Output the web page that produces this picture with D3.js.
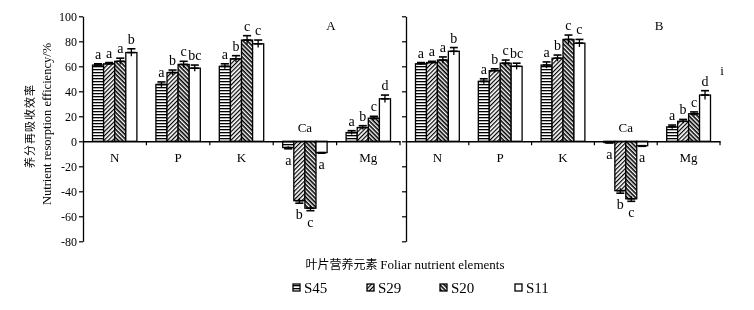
<!DOCTYPE html>
<html>
<head>
<meta charset="utf-8">
<script src="https://cdn.jsdelivr.net/npm/d3@7"></script>
<style>
  body { margin: 0; background: #fff; }
  svg { will-change: transform; }
  text { font-family: 'Liberation Serif', 'Times New Roman', serif; fill: #000; }
  .cjk { font-family: 'Noto Sans CJK SC', sans-serif; }
</style>
</head>
<body>
<div id="root"></div>
<script>
var elements = ['N', 'P', 'K', 'Ca', 'Mg'];
var sites = ['S45', 'S29', 'S20', 'S11'];
var yTicks = [-80, -60, -40, -20, 0, 20, 40, 60, 80, 100];

// panel A
var a_S45 = [61, 45.5, 60, -5, 7];
var a_S29 = [62, 55, 66, -47.5, 11];
var a_S20 = [64, 61.5, 81, -53.5, 18.5];
var a_S11 = [71, 58.5, 78, -9, 34];
var a_err_S45 = [1, 2, 2, 1, 1.5];
var a_err_S29 = [1, 2, 2.5, 2, 1.5];
var a_err_S20 = [2.5, 2.5, 3.5, 2, 1.5];
var a_err_S11 = [3, 2.5, 3, 0.5, 3];

// panel B
var b_S45 = [62, 48, 61, -1, 11.5];
var b_S29 = [63, 56.5, 66.5, -39.5, 16];
var b_S20 = [65, 62.5, 81.5, -46, 22];
var b_S11 = [72, 60, 78.5, -3.5, 37];
var b_err_S45 = [1, 2, 2.5, 0.3, 1.5];
var b_err_S29 = [1, 1.5, 2.5, 2, 1.5];
var b_err_S20 = [2.5, 2.5, 3.5, 2, 1.5];
var b_err_S11 = [3, 2.5, 3, 0.5, 3.5];

// significance letters (same in both panels)
var let_S45 = ['a', 'a', 'a', 'a', 'a'];
var let_S29 = ['a', 'b', 'b', 'b', 'b'];
var let_S20 = ['a', 'c', 'c', 'c', 'c'];
var let_S11 = ['b', 'bc', 'c', 'a', 'd'];

var buildRows = (vals, errs) => {
  var rows = [];
  elements.forEach((el, i) => {
    sites.forEach((s, j) => {
      rows.push({ element: el, site: s, value: vals[j][i], err: errs[j][i], letter: [let_S45, let_S29, let_S20, let_S11][j][i] });
    });
  });
  return rows;
};

var panels = [
  { name: 'A', x0: 83, x1: 400, labels: true, nameX: 331,
    rows: buildRows([a_S45, a_S29, a_S20, a_S11], [a_err_S45, a_err_S29, a_err_S20, a_err_S11]) },
  { name: 'B', x0: 406, x1: 720, labels: false, nameX: 659,
    rows: buildRows([b_S45, b_S29, b_S20, b_S11], [b_err_S45, b_err_S29, b_err_S20, b_err_S11]) }
];

var svg = d3.select('#root')
  .append('svg')
    .attr('width', 754)
    .attr('height', 310);

// fill patterns
var defs = svg.append('defs');
var p1 = defs.append('pattern').attr('id', 'pS45').attr('patternUnits', 'userSpaceOnUse')
  .attr('width', 4).attr('height', 3);
p1.append('rect').attr('width', 4).attr('height', 3).attr('fill', '#fff');
p1.append('rect').attr('y', 0).attr('width', 4).attr('height', 1.3).attr('fill', '#000');

var p2 = defs.append('pattern').attr('id', 'pS29').attr('patternUnits', 'userSpaceOnUse')
  .attr('width', 3).attr('height', 3).attr('patternTransform', 'rotate(-45)');
p2.append('rect').attr('width', 3).attr('height', 3).attr('fill', '#fff');
p2.append('rect').attr('width', 3).attr('height', 1.2).attr('fill', '#000');

var p3 = defs.append('pattern').attr('id', 'pS20').attr('patternUnits', 'userSpaceOnUse')
  .attr('width', 3).attr('height', 3).attr('patternTransform', 'rotate(45)');
p3.append('rect').attr('width', 3).attr('height', 3).attr('fill', '#fff');
p3.append('rect').attr('width', 3).attr('height', 1.6).attr('fill', '#000');

var fills = { S45: 'url(#pS45)', S29: 'url(#pS29)', S20: 'url(#pS20)', S11: '#fff' };

var yScale = d3.scaleLinear()
  .domain([-80, 100])
  .range([241.3, 16.3]);

panels.forEach(panel => {
  var g = svg.append('g');

  var xScale = d3.scaleBand()
    .domain(elements)
    .range([panel.x0, panel.x1]);

  var inner = d3.scaleBand()
    .domain(sites)
    .range([9.5, xScale.bandwidth() - 9.5]);

  // y axis
  var yAxisCall = d3.axisLeft(yScale)
    .tickValues(yTicks)
    .tickSize(4)
    .tickSizeOuter(0)
    .tickFormat(t => panel.labels ? t : '');
  var yAxis = g.append('g')
    .attr('transform', 'translate(' + panel.x0 + ', 0)')
    .call(yAxisCall);
  yAxis.select('.domain').attr('stroke-width', 1.3);
  yAxis.selectAll('line').attr('stroke-width', 1.2);
  yAxis.selectAll('text')
    .attr('font-size', '12px')
    .attr('font-family', "'Liberation Serif', serif")
    .attr('x', -6);

  // bars
  var groups = g.selectAll('g.bar')
    .data(panel.rows)
    .enter()
    .append('g')
      .attr('class', 'bar')
      .attr('transform', d => 'translate(' + (xScale(d.element) + inner(d.site)) + ', 0)');

  groups.append('rect')
    .attr('x', 0)
    .attr('y', d => yScale(Math.max(0, d.value)))
    .attr('width', inner.bandwidth())
    .attr('height', d => Math.abs(yScale(d.value) - yScale(0)))
    .attr('fill', d => fills[d.site])
    .attr('stroke', '#000')
    .attr('stroke-width', 1.3);

  var bw = inner.bandwidth();
  var tip = d => d.value >= 0 ? d.value + d.err : d.value - d.err;

  groups.append('line')
    .attr('x1', bw / 2).attr('x2', bw / 2)
    .attr('y1', d => yScale(d.value - d.err))
    .attr('y2', d => yScale(d.value + d.err))
    .attr('stroke', '#000').attr('stroke-width', 1.3);
  groups.append('line')
    .attr('x1', 1.5).attr('x2', bw - 1.5)
    .attr('y1', d => yScale(tip(d))).attr('y2', d => yScale(tip(d)))
    .attr('stroke', '#000').attr('stroke-width', 1.6);
  groups.append('line')
    .attr('x1', 1.5).attr('x2', bw - 1.5)
    .attr('y1', d => yScale(d.value)).attr('y2', d => yScale(d.value))
    .attr('stroke', '#000').attr('stroke-width', 1.6);

  groups.append('text')
    .attr('x', bw / 2)
    .attr('y', d => d.value >= 0 ? yScale(tip(d)) - 5 : yScale(tip(d)) + 16)
    .attr('text-anchor', 'middle')
    .attr('font-size', '14px')
    .text(d => d.letter);

  // x axis at zero
  var xAxisCall = d3.axisBottom(xScale)
    .tickValues([])
    .tickSizeOuter(0);
  g.append('g')
    .attr('transform', 'translate(0, ' + yScale(0) + ')')
    .call(xAxisCall)
    .select('.domain').attr('stroke-width', 1.6);

  g.selectAll('line.sep')
    .data(elements.slice(1).concat(['end']))
    .enter()
    .append('line')
      .attr('class', 'sep')
      .attr('x1', (d, i) => panel.x0 + xScale.step() * (i + 1))
      .attr('x2', (d, i) => panel.x0 + xScale.step() * (i + 1))
      .attr('y1', yScale(0))
      .attr('y2', yScale(0) + 4)
      .attr('stroke', '#000')
      .attr('stroke-width', 1.2);

  g.selectAll('text.cat')
    .data(elements)
    .enter()
    .append('text')
      .attr('class', 'cat')
      .attr('x', d => xScale(d) + xScale.bandwidth() / 2)
      .attr('y', d => d === 'Ca' ? yScale(0) - 9 : yScale(0) + 21)
      .attr('text-anchor', 'middle')
      .attr('font-size', '13px')
      .text(d => d);

  g.append('text')
    .attr('x', panel.nameX)
    .attr('y', 30)
    .attr('text-anchor', 'middle')
    .attr('font-size', '13px')
    .text(panel.name);
});

svg.append('text')
  .attr('x', 722)
  .attr('y', 75)
  .attr('text-anchor', 'middle')
  .attr('font-size', '13px')
  .text('i');

// y axis titles
svg.append('text')
  .attr('class', 'cjk')
  .attr('transform', 'translate(34, 126) rotate(-90)')
  .attr('text-anchor', 'middle')
  .attr('font-size', '11px')
  .attr('letter-spacing', '1px')
  .text('养分再吸收效率');

svg.append('text')
  .attr('transform', 'translate(51, 124) rotate(-90)')
  .attr('text-anchor', 'middle')
  .attr('font-size', '12.5px')
  .text('Nutrient resorption efficiency/%');

// x axis title
var xt = svg.append('text')
  .attr('x', 405)
  .attr('y', 269)
  .attr('text-anchor', 'middle')
  .attr('font-size', '13px');
xt.append('tspan').attr('class', 'cjk').attr('font-size', '12px').text('叶片营养元素 ');
xt.append('tspan').text('Foliar nutrient elements');

// legend
var legendX = [293, 367, 440, 515];
var legend = svg.selectAll('g.legend')
  .data(sites)
  .enter()
  .append('g')
    .attr('class', 'legend')
    .attr('transform', (d, i) => 'translate(' + legendX[i] + ', 288)');

legend.append('rect')
  .attr('x', 0)
  .attr('y', -4)
  .attr('width', 7)
  .attr('height', 7)
  .attr('fill', d => fills[d])
  .attr('stroke', '#000')
  .attr('stroke-width', 1.3);

legend.append('text')
  .attr('x', 11)
  .attr('y', 5)
  .attr('font-size', '15px')
  .text(d => d);
</script>
</body>
</html>
